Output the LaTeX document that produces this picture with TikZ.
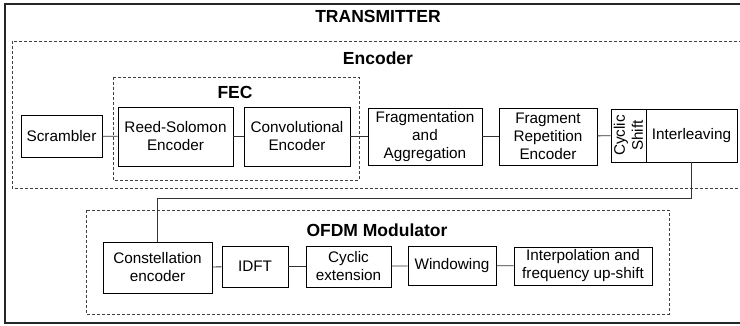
\documentclass[tikz,border=0pt]{standalone}
\usepackage{fontspec}
\setmainfont{Liberation Sans}
\usepackage{tikz}

\begin{document}
\begin{tikzpicture}[x=1pt,y=-1pt,
  block/.style={draw,line width=0.8pt,align=center,inner sep=1pt,
    font=\fontsize{15.3}{18}\selectfont},
  title/.style={font=\bfseries\fontsize{17.5}{20}\selectfont},
  group/.style={draw=black!75,line width=0.8pt,dash pattern=on 3pt off 2pt},
  link/.style={draw=black!80,line width=0.8pt}]
  \clip (0,0) rectangle (740,326);
  % frames
  \draw [line width=1.5pt,black!85] (5,4) rectangle (780,323);
  \draw [group] (12,41) rectangle (780,188);
  \draw [group] (113,77) rectangle (359,180);
  \draw [group] (86,210) rectangle (669,314);
  \node [title] (tx) at (378,16) {TRANSMITTER};
  \node [title] (enc) at (378,58) {Encoder};
  \node [title] (fec) at (235,92) {FEC};
  \node [title] (ofdm) at (377,230) {OFDM Modulator};
  % encoder chain
  \node [block,minimum width=81,minimum height=42] (scr) at (61.5,136) {Scrambler};
  \node [block,minimum width=115,minimum height=59] (rs) at (175.5,136.5) {Reed-Solomon\\Encoder};
  \node [block,minimum width=106,minimum height=59] (conv) at (297,136.5) {Convolutional\\Encoder};
  \node [block,minimum width=114,minimum height=57] (frag) at (425,136.5) {Fragmentation\\and\\Aggregation};
  \node [block,minimum width=98,minimum height=57] (rep) at (548,136.5) {Fragment\\Repetition\\Encoder};
  \node [block,rotate=90,minimum width=53,minimum height=35] (cyc) at (628.5,135.5) {Cyclic\\Shift};
  \node [block,minimum width=91,minimum height=53] (intl) at (691.5,135.5) {Interleaving};
  % modulator chain
  \node [block,minimum width=109,minimum height=51] (const) at (157.5,267.5) {Constellation\\encoder};
  \node [block,minimum width=66,minimum height=41] (idft) at (255,266.5) {IDFT};
  \node [block,minimum width=85,minimum height=41] (cext) at (348.5,266.5) {Cyclic\\extension};
  \node [block,minimum width=88,minimum height=39] (wind) at (452,265.5) {Windowing};
  \node [block,minimum width=138,minimum height=38] (interp) at (583,266) {Interpolation and\\frequency up-shift};
  % links
  \draw [link] (scr) -- (rs);
  \draw [link] (rs) -- (conv);
  \draw [link] (conv) -- (frag);
  \draw [link] (frag) -- (rep);
  \draw [link] (rep) -- (cyc);
  \draw [link] (intl.south) -- ++(0,36) -| (const.north);
  \draw [link] (const) -- (idft);
  \draw [link] (idft) -- (cext);
  \draw [link] (cext) -- (wind);
  \draw [link] (wind) -- (interp);
\end{tikzpicture}
\end{document}
